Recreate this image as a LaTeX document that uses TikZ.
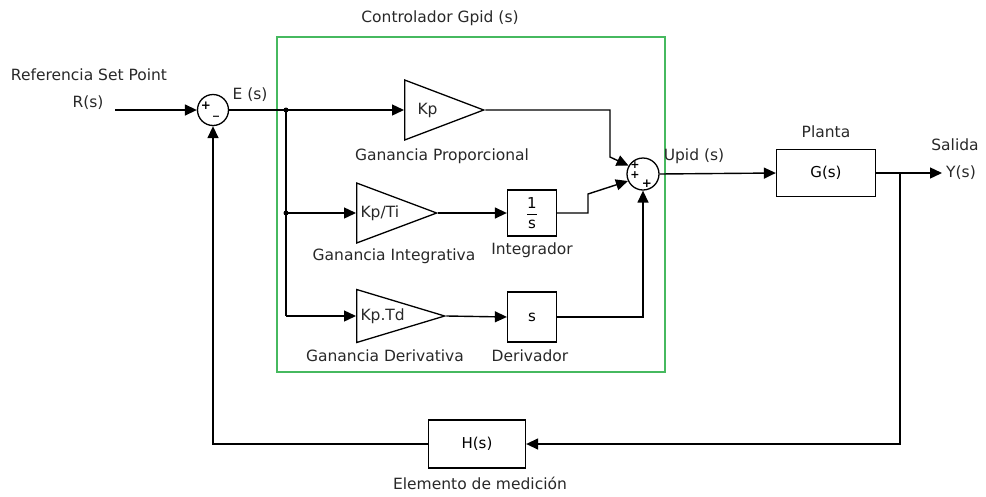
\documentclass[tikz,border=0pt]{standalone}
\usepackage{fontspec}
\setmainfont{DejaVu Sans}
\usetikzlibrary{arrows.meta,positioning,shapes.geometric}
\definecolor{ctrlgreen}{RGB}{70,185,95}
\definecolor{lblcol}{RGB}{40,40,40}
\tikzset{
  sig/.style={-{Triangle[length=12pt,width=11pt]}, line width=1.4pt},
  wire/.style={line width=1.4pt},
  blockbox/.style={draw, line width=1.3pt, minimum width=49pt, minimum height=46pt, inner sep=0pt,
    font=\fontsize{15}{17}\selectfont},
  gainbox/.style={draw, line width=1.3pt, isosceles triangle, isosceles triangle stretches,
    shape border rotate=0, inner sep=0pt, anchor=west},
  sumnode/.style={draw, circle, line width=1.3pt, minimum size=31pt, inner sep=0pt},
  lbl/.style={text=lblcol, font=\fontsize{15.5}{17}\selectfont},
  sgn/.style={font=\fontsize{12}{12}\selectfont\bfseries, inner sep=0pt},
  dotn/.style={circle, fill, inner sep=0pt, minimum size=5pt},
}
\begin{document}
\begin{tikzpicture}[x=1pt, y=-1pt]
    \useasboundingbox (0,0) rectangle (986,496);
    % controller frame
    \draw[ctrlgreen, line width=1.6pt] (277,37) rectangle (665,372);
    \node[lbl] (ttl) at (440,18) {Controlador Gpid (s)};
    % input and error summing point
    \node[lbl] (refl) at (89,75) {Referencia Set Point};
    \node[lbl] (rs) at (88,103) {R(s)};
    \coordinate (rin) at (115,110);
    \node[sumnode] (sum1) at (213,110) {};
    \node[sgn] at (206,106) {+};
    \node[sgn] at (216,116) {\_};
    \node[lbl] (es) at (250,95) {E (s)};
    % gains
    \node[gainbox, minimum height=79pt, minimum width=60pt] (kp) at (404,110) {};
    \node[lbl, anchor=west] (kpt) at (414,110) {Kp};
    \node[lbl] (kpl) at (442,156) {Ganancia Proporcional};
    \node[gainbox, minimum height=80pt, minimum width=60pt] (kpti) at (356,213) {};
    \node[lbl, anchor=west] (kptit) at (357,213) {Kp/Ti};
    \node[lbl] (kptil) at (394,256) {Ganancia Integrativa};
    \node[gainbox, minimum height=88pt, minimum width=53pt] (kptd) at (356,316) {};
    \node[lbl, anchor=west] (kptdt) at (357,316) {Kp.Td};
    \node[lbl] (kptdl) at (385,356) {Ganancia Derivativa};
    % integrator and derivative
    \node[blockbox] (int) at (532,213) {$\displaystyle\frac{\mbox{1}}{\mbox{s}}$};
    \node[lbl] (intl) at (532,250) {Integrador};
    \node[blockbox, minimum height=50pt] (der) at (532,317) {s};
    \node[lbl] (derl) at (530,356) {Derivador};
    % pid summing point
    \node[sumnode, minimum size=32pt] (sum2) at (643,174) {};
    \node[sgn, align=center, font=\fontsize{11}{9.5}\selectfont\bfseries] at (635,170) {+\\+};
    \node[sgn] at (647,184) {+};
    \node[lbl] (upid) at (694,156) {Upid (s)};
    % plant and sensor
    \node[blockbox, minimum width=99pt, minimum height=47pt] (plant) at (826,173) {G(s)};
    \node[lbl] (plantl) at (826,132) {Planta};
    \node[lbl] (sal) at (955,145) {Salida};
    \node[lbl] (ys) at (961,173) {Y(s)};
    \coordinate (yout) at (942,173);
    \coordinate (yj) at (900,173);
    \node[blockbox, minimum width=97pt, minimum height=48pt] (hs) at (477,444) {H(s)};
    \node[lbl] (hsl) at (480,483) {Elemento de medici\'on};
    % branch points
    \coordinate (ej) at (286,110);
    \coordinate (ij) at (286,213);
    \coordinate (dj) at (286,316);
    \coordinate (pk) at (610,157);
    \coordinate (ik) at (588,194);
    \node[dotn] (ejd) at (ej) {};
    \node[dotn] (ijd) at (ij) {};
    % connectors
    \draw[sig] (rin) -- (sum1);
    \draw[sig] (sum1.east) -- (kp.west);
    \draw[wire] (ej) -- (dj);
    \draw[sig] (ij) -- (kpti.west);
    \draw[sig] (dj) -- (kptd.west);
    \draw[sig] (kpti.east) -- (int.west);
    \draw[sig] (kptd.east) -- (der.west);
    \draw[sig] (kp.east) -| (pk) -- (sum2.150);
    \draw[sig] (int.east) -| (ik) -- (sum2.205);
    \draw[sig] (der.east) -| (sum2.south);
    \draw[sig] (sum2.east) -- (plant.west);
    \draw[sig] (plant.east) -- (yout);
    \draw[sig] (yj) |- (hs.east);
    \draw[sig] (hs.west) -| (sum1.south);
\end{tikzpicture}
\end{document}
